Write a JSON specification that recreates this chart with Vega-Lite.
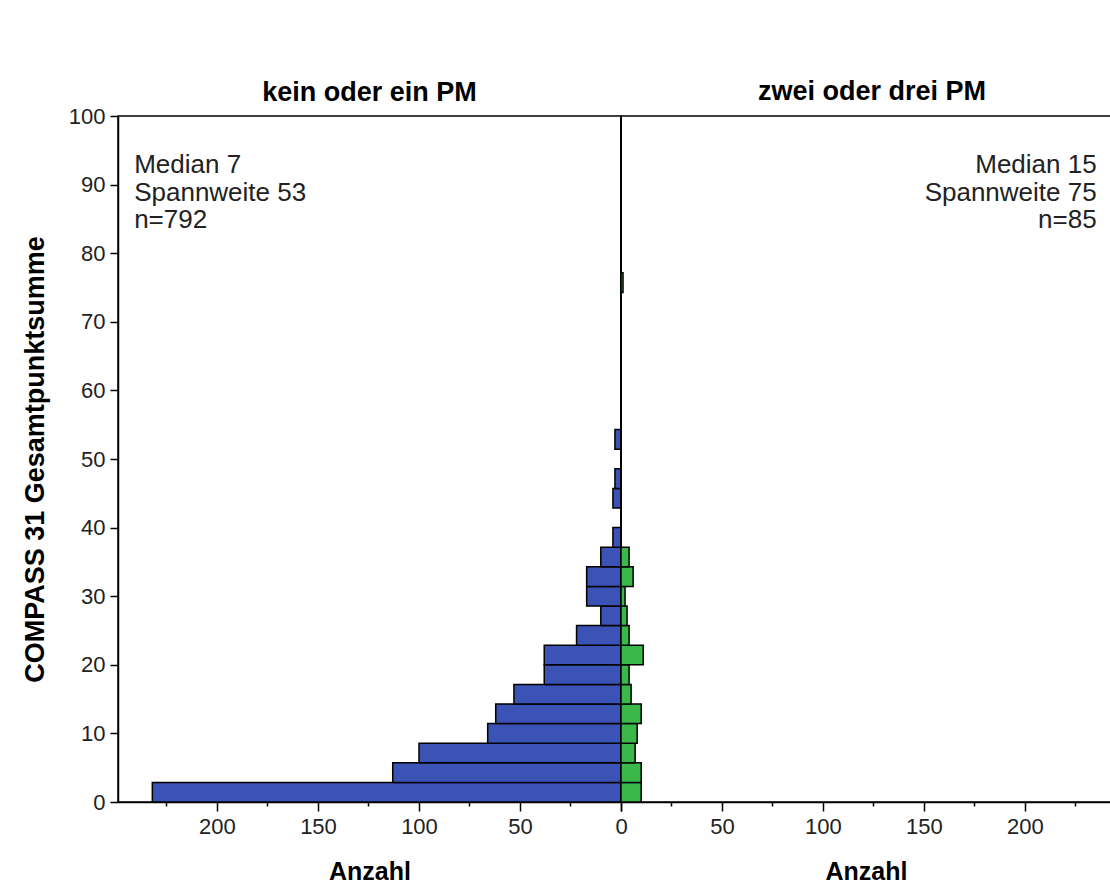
{
  "$schema": "https://vega.github.io/schema/vega-lite/v6.json",
  "background": "white",
  "padding": {"left": 20, "top": 77, "right": 0, "bottom": 0},
  "spacing": 0,
  "bounds": "flush",
  "config": {
    "font": "Liberation Sans",
    "view": {"stroke": "black", "strokeWidth": 1.5},
    "axis": {
      "labelFont": "Liberation Sans", "labelFontSize": 22, "labelColor": "#222222",
      "titleFont": "Liberation Sans", "titleFontSize": 25, "titleFontWeight": "bold", "titleColor": "black",
      "domainColor": "black", "domainWidth": 1.5, "tickColor": "black", "tickWidth": 1.5, "grid": false
    },
    "title": {"font": "Liberation Sans", "fontSize": 27, "fontWeight": "bold", "color": "black"}
  },
  "datasets": {
    "bars": [
      {"group": "kein oder ein PM", "bin_lo": 0, "bin_hi": 2.857, "count": 232},
      {"group": "kein oder ein PM", "bin_lo": 2.857, "bin_hi": 5.714, "count": 113},
      {"group": "kein oder ein PM", "bin_lo": 5.714, "bin_hi": 8.571, "count": 100},
      {"group": "kein oder ein PM", "bin_lo": 8.571, "bin_hi": 11.429, "count": 66},
      {"group": "kein oder ein PM", "bin_lo": 11.429, "bin_hi": 14.286, "count": 62},
      {"group": "kein oder ein PM", "bin_lo": 14.286, "bin_hi": 17.143, "count": 53},
      {"group": "kein oder ein PM", "bin_lo": 17.143, "bin_hi": 20, "count": 38},
      {"group": "kein oder ein PM", "bin_lo": 20, "bin_hi": 22.857, "count": 38},
      {"group": "kein oder ein PM", "bin_lo": 22.857, "bin_hi": 25.714, "count": 22},
      {"group": "kein oder ein PM", "bin_lo": 25.714, "bin_hi": 28.571, "count": 10},
      {"group": "kein oder ein PM", "bin_lo": 28.571, "bin_hi": 31.429, "count": 17},
      {"group": "kein oder ein PM", "bin_lo": 31.429, "bin_hi": 34.286, "count": 17},
      {"group": "kein oder ein PM", "bin_lo": 34.286, "bin_hi": 37.143, "count": 10},
      {"group": "kein oder ein PM", "bin_lo": 37.143, "bin_hi": 40, "count": 4},
      {"group": "kein oder ein PM", "bin_lo": 42.857, "bin_hi": 45.714, "count": 4},
      {"group": "kein oder ein PM", "bin_lo": 45.714, "bin_hi": 48.571, "count": 3},
      {"group": "kein oder ein PM", "bin_lo": 51.429, "bin_hi": 54.286, "count": 3},
      {"group": "zwei oder drei PM", "bin_lo": 0, "bin_hi": 2.857, "count": 10},
      {"group": "zwei oder drei PM", "bin_lo": 2.857, "bin_hi": 5.714, "count": 10},
      {"group": "zwei oder drei PM", "bin_lo": 5.714, "bin_hi": 8.571, "count": 7},
      {"group": "zwei oder drei PM", "bin_lo": 8.571, "bin_hi": 11.429, "count": 8},
      {"group": "zwei oder drei PM", "bin_lo": 11.429, "bin_hi": 14.286, "count": 10},
      {"group": "zwei oder drei PM", "bin_lo": 14.286, "bin_hi": 17.143, "count": 5},
      {"group": "zwei oder drei PM", "bin_lo": 17.143, "bin_hi": 20, "count": 4},
      {"group": "zwei oder drei PM", "bin_lo": 20, "bin_hi": 22.857, "count": 11},
      {"group": "zwei oder drei PM", "bin_lo": 22.857, "bin_hi": 25.714, "count": 4},
      {"group": "zwei oder drei PM", "bin_lo": 25.714, "bin_hi": 28.571, "count": 3},
      {"group": "zwei oder drei PM", "bin_lo": 28.571, "bin_hi": 31.429, "count": 2},
      {"group": "zwei oder drei PM", "bin_lo": 31.429, "bin_hi": 34.286, "count": 6},
      {"group": "zwei oder drei PM", "bin_lo": 34.286, "bin_hi": 37.143, "count": 4},
      {"group": "zwei oder drei PM", "bin_lo": 74.286, "bin_hi": 77.143, "count": 1}
    ],
    "notes": [
      {"group": "kein oder ein PM", "lines": ["Median 7", "Spannweite 53", "n=792"]},
      {"group": "zwei oder drei PM", "lines": ["Median 15", "Spannweite 75", "n=85"]}
    ]
  },
  "hconcat": [
    {
      "width": 503,
      "height": 686,
      "title": {"text": "kein oder ein PM", "offset": -2},
      "layer": [
        {
          "data": {"name": "bars"},
          "transform": [{"filter": "datum.group === 'kein oder ein PM'"}],
          "mark": {"type": "rect", "fill": "#3a53b5", "stroke": "black", "strokeWidth": 1.5},
          "encoding": {
            "x": {
              "field": "count", "type": "quantitative",
              "scale": {"domain": [0, 249], "reverse": true, "nice": false},
              "axis": {
                "title": "Anzahl",
                "values": [0, 25, 50, 75, 100, 125, 150, 175, 200, 225],
                "labelExpr": "datum.value % 50 === 0 ? datum.label : ''",
                "tickSize": {"expr": "datum.value % 50 === 0 ? 9 : 4"},
                "labelPadding": 5, "titlePadding": 22, "labelFlush": false, "labelOverlap": false
              }
            },
            "x2": {"datum": 0},
            "y": {
              "field": "bin_lo", "type": "quantitative",
              "scale": {"domain": [0, 100], "nice": false},
              "axis": {
                "title": "COMPASS 31 Gesamtpunktsumme",
                "titleFontSize": 27,
                "values": [0, 10, 20, 30, 40, 50, 60, 70, 80, 90, 100],
                "tickSize": 8, "labelPadding": 5, "titlePadding": 19, "labelFlush": false
              }
            },
            "y2": {"field": "bin_hi"}
          }
        },
        {
          "data": {"name": "notes"},
          "transform": [{"filter": "datum.group === 'kein oder ein PM'"}],
          "mark": {"type": "rule", "stroke": "black", "strokeWidth": 2},
          "encoding": {"x": {"datum": 0}}
        },
        {
          "data": {"name": "notes"},
          "transform": [{"filter": "datum.group === 'kein oder ein PM'"}],
          "mark": {"type": "text", "align": "left", "baseline": "top", "fontSize": 26, "lineHeight": 27.5, "color": "#222222", "font": "Liberation Sans"},
          "encoding": {
            "x": {"datum": 241},
            "y": {"datum": 94.7},
            "text": {"field": "lines"}
          }
        }
      ]
    },
    {
      "width": 490,
      "height": 686,
      "title": {"text": "zwei oder drei PM", "offset": 10, "dx": 6},
      "layer": [
        {
          "data": {"name": "bars"},
          "transform": [{"filter": "datum.group === 'zwei oder drei PM'"}],
          "mark": {"type": "rect", "fill": "#3cb84a", "stroke": "black", "strokeWidth": 1.5},
          "encoding": {
            "x": {
              "field": "count", "type": "quantitative",
              "scale": {"domain": [0, 242.6], "nice": false},
              "axis": {
                "title": "Anzahl",
                "values": [0, 25, 50, 75, 100, 125, 150, 175, 200, 225],
                "labelExpr": "datum.value % 50 === 0 && datum.value > 0 ? datum.label : ''",
                "tickSize": {"expr": "datum.value % 50 === 0 ? 9 : 4"},
                "labelPadding": 5, "titlePadding": 22, "labelFlush": false, "labelOverlap": false
              }
            },
            "x2": {"datum": 0},
            "y": {
              "field": "bin_lo", "type": "quantitative",
              "scale": {"domain": [0, 100], "nice": false},
              "axis": null
            },
            "y2": {"field": "bin_hi"}
          }
        },
        {
          "data": {"name": "notes"},
          "transform": [{"filter": "datum.group === 'zwei oder drei PM'"}],
          "mark": {"type": "text", "align": "right", "baseline": "top", "fontSize": 26, "lineHeight": 27.5, "color": "#222222", "font": "Liberation Sans"},
          "encoding": {
            "x": {"datum": 235.5},
            "y": {"datum": 94.7},
            "text": {"field": "lines"}
          }
        }
      ]
    }
  ]
}
